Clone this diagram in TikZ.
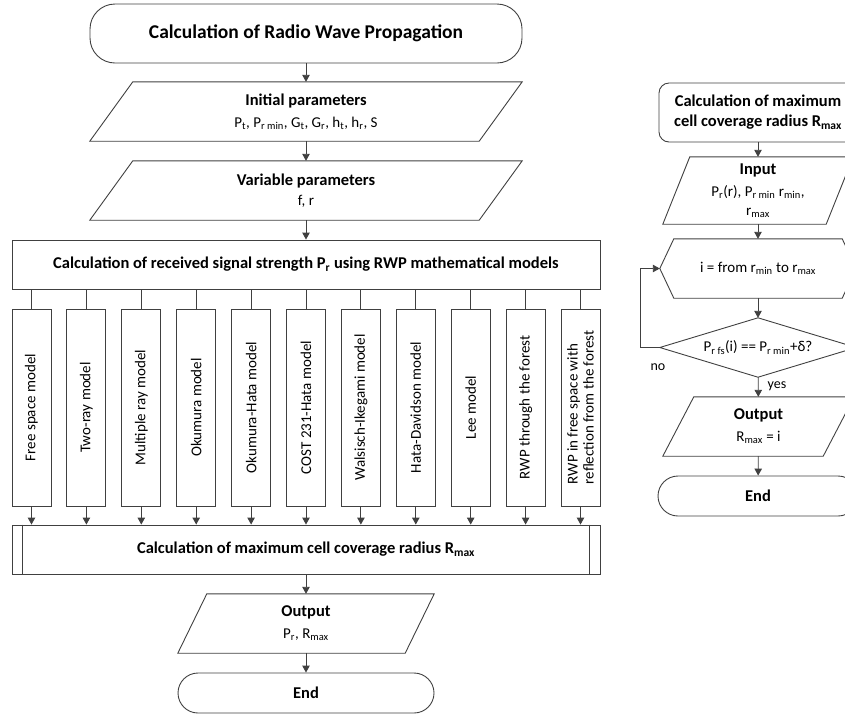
\documentclass[tikz,border=0pt]{standalone}
\usepackage{fontspec}
\setmainfont{Carlito}
\usetikzlibrary{arrows.meta}
\newcommand{\sbs}[1]{\textsubscript{#1}}
\begin{document}
\begin{tikzpicture}[x=1pt,y=-1pt,
  line/.style={draw=black!75, line width=0.9pt},
  arr/.style={line, -{Triangle[length=7pt,width=7.5pt]}},
  box/.style={line, rectangle, inner sep=0pt, align=center},
  plain/.style={inner sep=0pt, align=center},
  f15/.style={font=\fontsize{15}{19}\selectfont},
  b16/.style={font=\bfseries\fontsize{16.5}{20}\selectfont},
  lbl/.style={inner sep=0pt, font=\fontsize{14}{17}\selectfont}
]
\useasboundingbox (0,0) rectangle (845,713);
\clip (0,0) rectangle (845,713);

% ---------- main flow ----------
\node[box, rounded corners=25pt, minimum width=432pt, minimum height=59pt,
      font=\bfseries\fontsize{19.5}{23}\selectfont] (start) at (306,33.5)
      {Calculation of Radio Wave Propagation};

\node[plain, minimum width=432pt, minimum height=59pt, f15] (ip) at (306,111.5)
  {{\bfseries\fontsize{16.5}{20}\selectfont Initial parameters}\\[3pt] P\sbs{t}, P\sbs{r min}, G\sbs{t}, G\sbs{r}, h\sbs{t}, h\sbs{r}, S};
\draw[line] ([xshift=43pt]ip.north west) -- (ip.north east) -- ([xshift=-43pt]ip.south east) -- (ip.south west) -- cycle;

\node[plain, minimum width=432pt, minimum height=59pt, f15] (vp) at (306,190.5)
  {{\bfseries\fontsize{16.5}{20}\selectfont Variable parameters}\\[1pt] f, r};
\draw[line] ([xshift=43pt]vp.north west) -- (vp.north east) -- ([xshift=-43pt]vp.south east) -- (vp.south west) -- cycle;

\node[box, minimum width=588pt, minimum height=49pt, b16] (calc) at (306,264.5)
  {Calculation of received signal strength P\sbs{r} using RWP mathematical models};

\node[box, minimum width=588pt, minimum height=49pt, b16] (proc) at (306,549.5)
  {Calculation of maximum cell coverage radius R\sbs{max}};
\draw[line] ([xshift=11pt]proc.north west) -- ([xshift=11pt]proc.south west);
\draw[line] ([xshift=-11pt]proc.north east) -- ([xshift=-11pt]proc.south east);

\foreach \i/\t in {1/{Free space model},2/{Two-ray model},3/{Multiple ray model},
  4/{Okumura model},5/{Okumura-Hata model},6/{COST 231-Hata model},
  7/{Walsisch-Ikegami model},8/{Hata-Davidson model},9/{Lee model},
  10/{RWP through the forest},11/{RWP in free space with\\reflection from the forest}}{
  \node[box, align=left, rotate=90, minimum width=197pt, minimum height=39pt,
        font=\fontsize{15}{16}\selectfont] (m\i) at ({31.5+54.9*(\i-1)},407.5) {\t};
  \draw[line] (calc.south -| m\i.center) -- (m\i.east);
  \draw[arr] (m\i.west) -- (m\i.west |- proc.north);
}

\node[plain, minimum width=256pt, minimum height=59pt, f15] (out) at (306,623.5)
  {{\bfseries\fontsize{16.5}{20}\selectfont Output}\\[3pt] P\sbs{r}, R\sbs{max}};
\draw[line] ([xshift=29pt]out.north west) -- (out.north east) -- ([xshift=-29pt]out.south east) -- (out.south west) -- cycle;

\node[box, rounded corners=20pt, minimum width=256pt, minimum height=40pt, b16] (end) at (306,693) {End};

\draw[arr] (start) -- (ip);
\draw[arr] (ip) -- (vp);
\draw[arr] (vp) -- (calc);
\draw[arr] (proc) -- (out);
\draw[arr] (out) -- (end);

% ---------- right flow ----------
\node[box, rounded corners=10pt, minimum width=198pt, minimum height=59pt,
      font=\bfseries\fontsize{16.5}{20}\selectfont] (rt) at (758,112.5)
  {Calculation of maximum\\cell coverage radius R\sbs{max}};

\node[plain, minimum width=190pt, minimum height=67pt, font=\fontsize{15}{19}\selectfont] (inp) at (758,190.5)
  {{\bfseries\fontsize{16.5}{20}\selectfont Input}\\[3pt] P\sbs{r}(r), P\sbs{r min} r\sbs{min},\\ r\sbs{max}};
\draw[line] ([xshift=27pt]inp.north west) -- (inp.north east) -- ([xshift=-27pt]inp.south east) -- (inp.south west) -- cycle;

\node[plain, minimum width=196pt, minimum height=59pt, f15] (hex) at (758,268.5)
  {i = from r\sbs{min} to r\sbs{max}};
\draw[line] (hex.west) -- ([xshift=14pt]hex.north west) -- ([xshift=-14pt]hex.north east) -- (hex.east)
  -- ([xshift=-14pt]hex.south east) -- ([xshift=14pt]hex.south west) -- cycle;

\node[plain, minimum width=196pt, minimum height=59pt, f15] (dia) at (758,347.5)
  {P\sbs{r fs}(i) == P\sbs{r min}+δ?};
\draw[line] (dia.west) -- (dia.north) -- (dia.east) -- (dia.south) -- cycle;

\node[plain, minimum width=191pt, minimum height=59pt, f15] (out2) at (758.5,426.5)
  {{\bfseries\fontsize{16.5}{20}\selectfont Output}\\[3pt] R\sbs{max} = i};
\draw[line] ([xshift=31pt]out2.north west) -- (out2.north east) -- ([xshift=-31pt]out2.south east) -- (out2.south west) -- cycle;

\node[box, rounded corners=20pt, minimum width=200pt, minimum height=40pt, b16] (end2) at (758,496) {End};

\draw[arr] (rt) -- (inp);
\draw[arr] (inp) -- (hex);
\draw[arr] (hex) -- (dia);
\draw[arr] (dia) -- (out2);
\draw[arr] (out2) -- (end2);
\draw[arr] (dia.west) -- ++(-19,0) |- (hex.west);

\node[lbl] (nolbl) at (658,367) {no};
\node[lbl] (yeslbl) at (777,386) {yes};
\end{tikzpicture}
\end{document}
